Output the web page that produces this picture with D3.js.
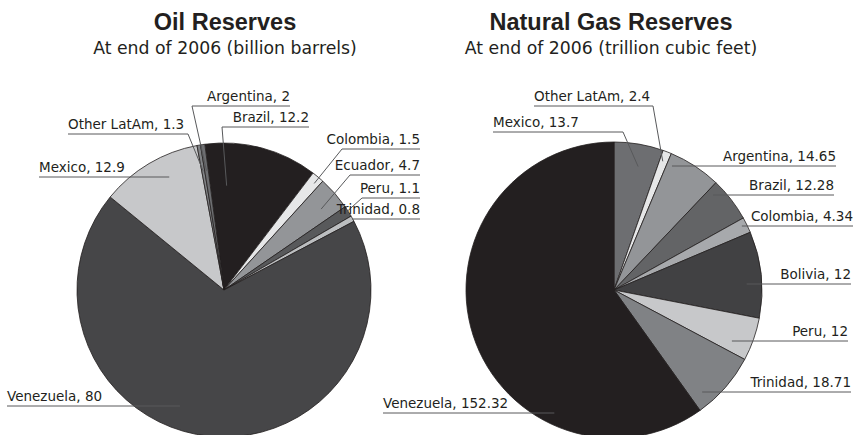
<!DOCTYPE html>
<html>
<head>
<meta charset="utf-8">
<script src="https://cdn.jsdelivr.net/npm/d3@7/dist/d3.min.js"></script>
<style>
  html, body { margin: 0; padding: 0; background: #ffffff; }
  svg { display: block; }
</style>
</head>
<body>
<svg id="chart" width="853" height="435"></svg>
<script>
// ---------------- DATA ----------------
// Oil reserves (billion barrels) – slice order clockwise from the top
const oilCountries   = ["Brazil", "Colombia", "Ecuador", "Peru", "Trinidad", "Venezuela", "Mexico", "Other LatAm", "Argentina"];
const oilLabelValues = ["12.2", "1.5", "4.7", "1.1", "0.8", "80", "12.9", "1.3", "2"];      // as printed
const oilSliceValues = [14.5, 1.6, 4.3, 1.4, 0.75, 80, 13.0, 0.45, 0.55];                   // as drawn

// Natural gas reserves (trillion cubic feet)
const gasCountries   = ["Mexico", "Other LatAm", "Argentina", "Brazil", "Colombia", "Bolivia", "Peru", "Trinidad", "Venezuela"];
const gasLabelValues = ["13.7", "2.4", "14.65", "12.28", "4.34", "12", "12", "18.71", "152.32"]; // as printed
const gasSliceValues = [13.7, 2.4, 14.65, 12.28, 4.34, 24, 12, 18.71, 152.32];                 // as drawn

const titles    = ["Oil Reserves", "Natural Gas Reserves"];
const subtitles = ["At end of 2006 (billion barrels)", "At end of 2006 (trillion cubic feet)"];

// ---------------- STYLE / LAYOUT ----------------
const oilColors = ["#231f20", "#e6e7e8", "#939598", "#58595b", "#bcbec0", "#464648", "#c7c8ca", "#808285", "#6d6e71"];
const gasColors = ["#6d6e71", "#e6e7e8", "#939598", "#636466", "#a7a9ac", "#414143", "#c7c8ca", "#808285", "#231f20"];

const deg = Math.PI / 180;
// label layout: anchor, text x, baseline y, elbow x (null = straight), target inside slice (frac of slice angle, radius frac)
const oilLabelLayout = [
  {anchor: "end",   x: 309, y: 122, elbow: 222, frac: 0.2,  rf: 0.71},  // Brazil
  {anchor: "end",   x: 420, y: 144, elbow: 342, frac: 0.6,  rf: 0.95},  // Colombia
  {anchor: "end",   x: 420, y: 170, elbow: 350, frac: 0.6,  rf: 0.86},  // Ecuador
  {anchor: "end",   x: 420, y: 193, elbow: 362, frac: 0.5,  rf: 0.97},  // Peru
  {anchor: "end",   x: 420, y: 214, elbow: null, frac: 0.5, horiz: true}, // Trinidad
  {anchor: "start", x: 7,   y: 401, elbow: null, frac: 0.561, horiz: true}, // Venezuela
  {anchor: "start", x: 39,  y: 172, elbow: null, frac: 0.62, horiz: true}, // Mexico
  {anchor: "start", x: 68,  y: 129, elbow: 188, frac: 0.5,  rf: 0.82},  // Other LatAm
  {anchor: "end",   x: 290, y: 101, elbow: 192, frac: 0.5,  rf: 0.82}   // Argentina
];
const gasLabelLayout = [
  {anchor: "start", x: 493, y: 127, elbow: 623, frac: 0.57, rf: 0.85},  // Mexico
  {anchor: "start", x: 534, y: 101, elbow: 653, frac: 0.4,  rf: 0.93},  // Other LatAm
  {anchor: "end",   x: 836, y: 161, elbow: null, frac: 0.11, horiz: true}, // Argentina
  {anchor: "end",   x: 834, y: 190, elbow: null, frac: 0.155, horiz: true}, // Brazil
  {anchor: "end",   x: 853, y: 221, elbow: null, frac: 0.41, horiz: true}, // Colombia
  {anchor: "end",   x: 851, y: 279, elbow: null, frac: 0.6,  horiz: true}, // Bolivia
  {anchor: "end",   x: 848, y: 336, elbow: null, frac: 0.73, horiz: true}, // Peru
  {anchor: "end",   x: 851, y: 387, elbow: null, frac: 0.8,  horiz: true}, // Trinidad
  {anchor: "start", x: 383, y: 408, elbow: null, frac: 0.285, horiz: true} // Venezuela
];

const charts = [
  {cx: 224, cy: 290, r: 147, start: -7.5 * deg, countries: oilCountries, values: oilSliceValues,
   labels: oilLabelValues, colors: oilColors, layout: oilLabelLayout, title: titles[0], subtitle: subtitles[0], tx: 225},
  {cx: 614, cy: 290, r: 148, start: 0, countries: gasCountries, values: gasSliceValues,
   labels: gasLabelValues, colors: gasColors, layout: gasLabelLayout, title: titles[1], subtitle: subtitles[1], tx: 611}
];

const svg = d3.select("#chart");
const textColor = "#231f20";
const labelFont = "'DejaVu Sans', sans-serif";

charts.forEach(c => {
  // titles
  svg.append("text")
    .attr("x", c.tx).attr("y", 30)
    .attr("text-anchor", "middle")
    .style("font-family", "'Liberation Sans', Arial, sans-serif")
    .style("font-weight", "bold")
    .style("font-size", "23.5px")
    .style("fill", textColor)
    .text(c.title);
  svg.append("text")
    .attr("x", c.tx).attr("y", 54)
    .attr("text-anchor", "middle")
    .style("font-family", labelFont)
    .style("font-size", "17.3px")
    .style("fill", textColor)
    .text(c.subtitle);

  const pie = d3.pie().sort(null).value(d => d.v)
    .startAngle(c.start).endAngle(c.start + 2 * Math.PI);
  const data = c.countries.map((name, i) => ({name, v: c.values[i], label: c.labels[i], color: c.colors[i], lay: c.layout[i]}));
  const arcs = pie(data);
  const arc = d3.arc().innerRadius(0).outerRadius(c.r);

  const g = svg.append("g").attr("transform", `translate(${c.cx},${c.cy})`);
  g.selectAll("path.slice").data(arcs).join("path")
    .attr("class", "slice")
    .attr("d", arc)
    .attr("fill", d => d.data.color)
    .attr("stroke", "#231f20")
    .attr("stroke-width", 0.8)
    .attr("stroke-linejoin", "round");

  // labels and leaders
  arcs.forEach(a => {
    const L = a.data.lay;
    const theta = a.startAngle + (a.endAngle - a.startAngle) * L.frac;
    const lineY = L.y + 5;
    let rr;
    if (L.horiz) rr = (c.cy - lineY) / Math.cos(theta);
    else rr = L.rf * c.r;
    const px = c.cx + rr * Math.sin(theta);
    const py = c.cy - rr * Math.cos(theta);

    svg.append("text")
      .attr("x", L.x).attr("y", L.y)
      .attr("text-anchor", L.anchor)
      .style("font-family", labelFont)
      .style("font-size", "13.5px")
      .style("fill", textColor)
      .text(`${a.data.name}, ${a.data.label}`);

    const pts = [[L.x, lineY]];
    if (L.elbow !== null) pts.push([L.elbow, lineY]);
    pts.push([px, py]);
    svg.append("path")
      .attr("d", d3.line()(pts))
      .attr("fill", "none")
      .attr("stroke", "#58595b")
      .attr("stroke-width", 1);
  });
});
</script>
</body>
</html>
